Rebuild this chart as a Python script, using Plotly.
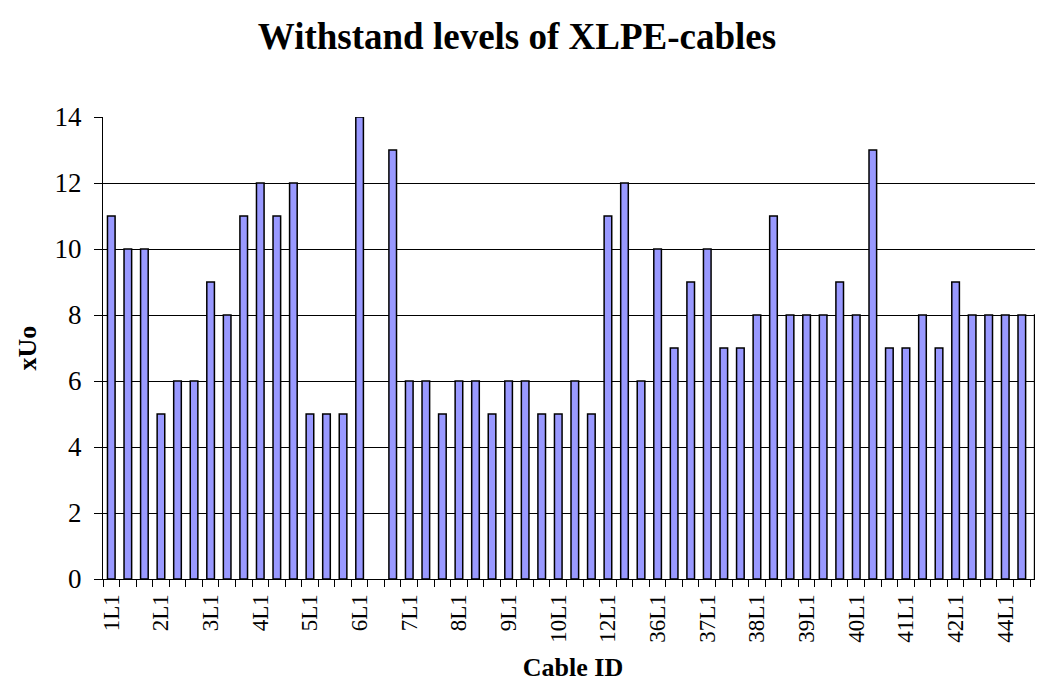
import plotly.graph_objects as go

# Cable IDs (three phases each: L1, L2, L3)
cable_ids = ["1", "2", "3", "4", "5", "6", "7", "8", "9", "10",
             "12", "36", "37", "38", "39", "40", "41", "42", "44"]
phases = ["L1", "L2", "L3"]

# Withstand level (multiple of Uo) per phase, in category order
withstand = [11, 10, 10,   5, 6, 6,    9, 8, 11,   12, 11, 12,
             5, 5, 5,      14, None, 13,  6, 6, 5,  6, 6, 5,
             6, 6, 5,      5, 6, 5,    11, 12, 6,   10, 7, 9,
             10, 7, 7,     8, 11, 8,   8, 8, 9,     8, 13, 7,
             7, 8, 7,      9, 8, 8,    8, 8, 8]

categories = [f"{c}{p}" for c in cable_ids for p in phases]
tick_text = [cat if cat.endswith("L1") else "" for cat in categories]

FONT = "Liberation Serif"

fig = go.Figure(
    go.Bar(
        x=categories,
        y=withstand,
        marker=dict(color="#9999FF", line=dict(color="#000000", width=1.5)),
    )
)

# page body adds an 8px margin; figure sized to fill the rest of the window
fig.update_layout(
    width=1035,
    height=676,
    paper_bgcolor="white",
    plot_bgcolor="white",
    margin=dict(l=95, r=0, t=109, b=105),
    bargap=0.54,
    showlegend=False,
    font=dict(family=FONT, color="black"),
    title=dict(
        text="Withstand levels of XLPE-cables",
        font=dict(family=FONT, size=37, weight="bold", color="black"),
        xref="container", x=0.4918, xanchor="center",
        yref="container", y=0.958, yanchor="middle",
    ),
)

fig.update_xaxes(
    type="category",
    tickmode="array",
    tickvals=categories,
    ticktext=tick_text,
    tickangle=-90,
    tickson="boundaries",
    ticks="outside",
    ticklen=7,
    tickcolor="black",
    tickfont=dict(family=FONT, size=23, color="black"),
    ticklabelstandoff=5,
    showline=True,
    linecolor="black",
    linewidth=1,
    showgrid=False,
    range=[-0.5, 56.28],
    automargin=False,
    title=dict(text="Cable ID", font=dict(family=FONT, size=26, weight="bold", color="black"),
               standoff=16),
)

fig.update_yaxes(
    range=[0, 14],
    dtick=2,
    tick0=0,
    ticks="outside",
    ticklen=8,
    tickcolor="black",
    tickfont=dict(family=FONT, size=27, color="black"),
    ticklabelstandoff=7,
    showline=True,
    linecolor="black",
    linewidth=1,
    showgrid=True,
    gridcolor="black",
    gridwidth=1,
    zeroline=False,
    automargin=False,
    title=dict(text="xUo", font=dict(family=FONT, size=26, weight="bold", color="black"),
               standoff=10),
)

fig.write_html("out.html")
